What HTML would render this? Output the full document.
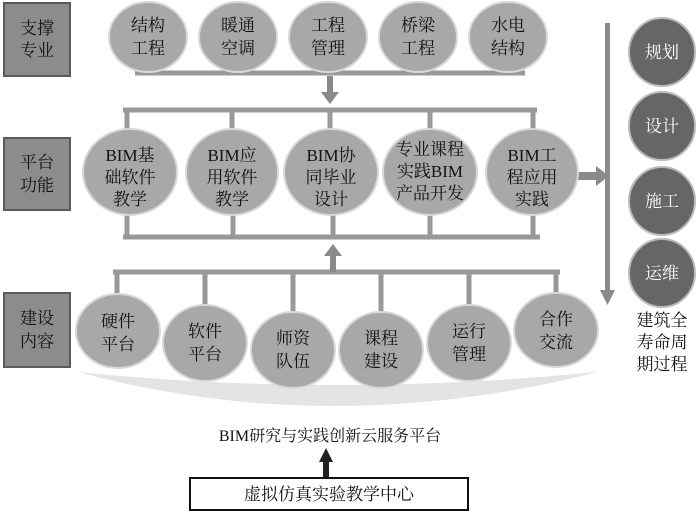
<!DOCTYPE html>
<html><head><meta charset="utf-8"><style>
html,body{margin:0;padding:0;background:#fff;}
svg{display:block;}
text{font-family:"Liberation Serif","Noto Serif CJK SC",serif;font-size:17px;fill:#111;text-anchor:middle;}
.w{fill:#fff;}
</style></head><body>
<svg width="700" height="518" viewBox="0 0 700 518">
<g fill="#8c8c8c" stroke="#5a5a5a" stroke-width="2">
<rect x="4" y="3" width="66" height="73"/>
<rect x="4" y="138" width="66" height="72"/>
<rect x="4" y="293" width="66" height="74"/>
</g>
<text x="37" y="34">支撑</text><text x="37" y="56">专业</text>
<text x="37" y="168">平台</text><text x="37" y="191">功能</text>
<text x="37" y="324">建设</text><text x="37" y="347">内容</text>

<path d="M78,372 Q330,440 598,372 Q330,398 78,372 Z" fill="#e4e4e4"/>

<g stroke="#999" stroke-width="5" fill="none">
<line x1="135" y1="73" x2="525" y2="73"/>
<line x1="123" y1="110" x2="537" y2="110"/>
<line x1="127" y1="110" x2="127" y2="135"/><line x1="232" y1="110" x2="232" y2="135"/><line x1="330" y1="110" x2="330" y2="135"/><line x1="430" y1="110" x2="430" y2="135"/><line x1="533" y1="110" x2="533" y2="135"/>
<line x1="123" y1="237" x2="540" y2="237"/>
<line x1="127" y1="210" x2="127" y2="237"/><line x1="233" y1="210" x2="233" y2="237"/><line x1="333" y1="210" x2="333" y2="237"/><line x1="430" y1="210" x2="430" y2="237"/><line x1="533" y1="210" x2="533" y2="237"/>
<line x1="113" y1="272" x2="560" y2="272"/>
<line x1="117" y1="272" x2="117" y2="300"/><line x1="205" y1="272" x2="205" y2="310"/><line x1="293" y1="272" x2="293" y2="315"/><line x1="381" y1="272" x2="381" y2="315"/><line x1="469" y1="272" x2="469" y2="310"/><line x1="556" y1="272" x2="556" y2="298"/>
</g>
<g fill="#8a8a8a">
<rect x="327" y="76" width="6" height="17"/><path d="M321,92 L339,92 L330,104 Z"/>
<rect x="330" y="255" width="6" height="17"/><path d="M324,256 L342,256 L333,244 Z"/>
<rect x="577" y="172" width="20" height="8"/><path d="M596,166 L609,176 L596,186 Z"/>
<rect x="605" y="23" width="5" height="270"/><path d="M600,290 L615,290 L607.5,305 Z"/>
</g>

<g fill="#a8a8a8" stroke="#d8d8d8" stroke-width="2">
<ellipse cx="148" cy="37" rx="39" ry="35"/>
<ellipse cx="238" cy="37" rx="39" ry="35"/>
<ellipse cx="328" cy="37" rx="39" ry="35"/>
<ellipse cx="418" cy="37" rx="39" ry="35"/>
<ellipse cx="508" cy="37" rx="39" ry="35"/>
<ellipse cx="130" cy="172" rx="47" ry="43"/>
<ellipse cx="232" cy="172" rx="46" ry="43"/>
<ellipse cx="331" cy="172" rx="47" ry="43"/>
<ellipse cx="430" cy="172" rx="47" ry="43"/>
<ellipse cx="532" cy="172" rx="46" ry="43"/>
<ellipse cx="118" cy="331" rx="42" ry="37"/>
<ellipse cx="205" cy="343" rx="42" ry="38"/>
<ellipse cx="293" cy="350" rx="42" ry="38"/>
<ellipse cx="381" cy="350" rx="42" ry="38"/>
<ellipse cx="469" cy="343" rx="42" ry="38"/>
<ellipse cx="556" cy="330" rx="42" ry="37"/>
</g>
<g fill="#666" stroke="#bbb" stroke-width="2">
<ellipse cx="662" cy="52" rx="33" ry="34"/>
<ellipse cx="662" cy="126" rx="33" ry="34"/>
<ellipse cx="662" cy="201" rx="33" ry="34"/>
<ellipse cx="662" cy="273" rx="33" ry="34"/>
</g>

<text x="148" y="31">结构</text><text x="148" y="54">工程</text>
<text x="238" y="31">暖通</text><text x="238" y="54">空调</text>
<text x="328" y="31">工程</text><text x="328" y="54">管理</text>
<text x="418" y="31">桥梁</text><text x="418" y="54">工程</text>
<text x="508" y="31">水电</text><text x="508" y="54">结构</text>

<text x="130" y="161">BIM基</text><text x="130" y="183">础软件</text><text x="130" y="205">教学</text>
<text x="232" y="161">BIM应</text><text x="232" y="183">用软件</text><text x="232" y="205">教学</text>
<text x="331" y="161">BIM协</text><text x="331" y="183">同毕业</text><text x="331" y="205">设计</text>
<text x="430" y="155">专业课程</text><text x="430" y="177">实践BIM</text><text x="430" y="199">产品开发</text>
<text x="532" y="161">BIM工</text><text x="532" y="183">程应用</text><text x="532" y="205">实践</text>

<text x="118" y="327">硬件</text><text x="118" y="350">平台</text>
<text x="205" y="337">软件</text><text x="205" y="360">平台</text>
<text x="293" y="344">师资</text><text x="293" y="367">队伍</text>
<text x="381" y="344">课程</text><text x="381" y="367">建设</text>
<text x="469" y="337">运行</text><text x="469" y="360">管理</text>
<text x="556" y="325">合作</text><text x="556" y="348">交流</text>

<text class="w" x="662" y="58">规划</text>
<text class="w" x="662" y="132">设计</text>
<text class="w" x="662" y="207">施工</text>
<text class="w" x="662" y="279">运维</text>
<text x="662" y="326">建筑全</text><text x="662" y="348">寿命周</text><text x="662" y="370">期过程</text>

<text x="330" y="441" style="font-size:16px">BIM研究与实践创新云服务平台</text>
<rect x="323" y="460" width="6" height="20" fill="#222"/><path d="M319,462 L333,462 L326,448 Z" fill="#222"/>
<rect x="190" y="478" width="278" height="32" fill="#fff" stroke="#111" stroke-width="2"/>
<text x="329" y="500">虚拟仿真实验教学中心</text>
</svg>
</body></html>
